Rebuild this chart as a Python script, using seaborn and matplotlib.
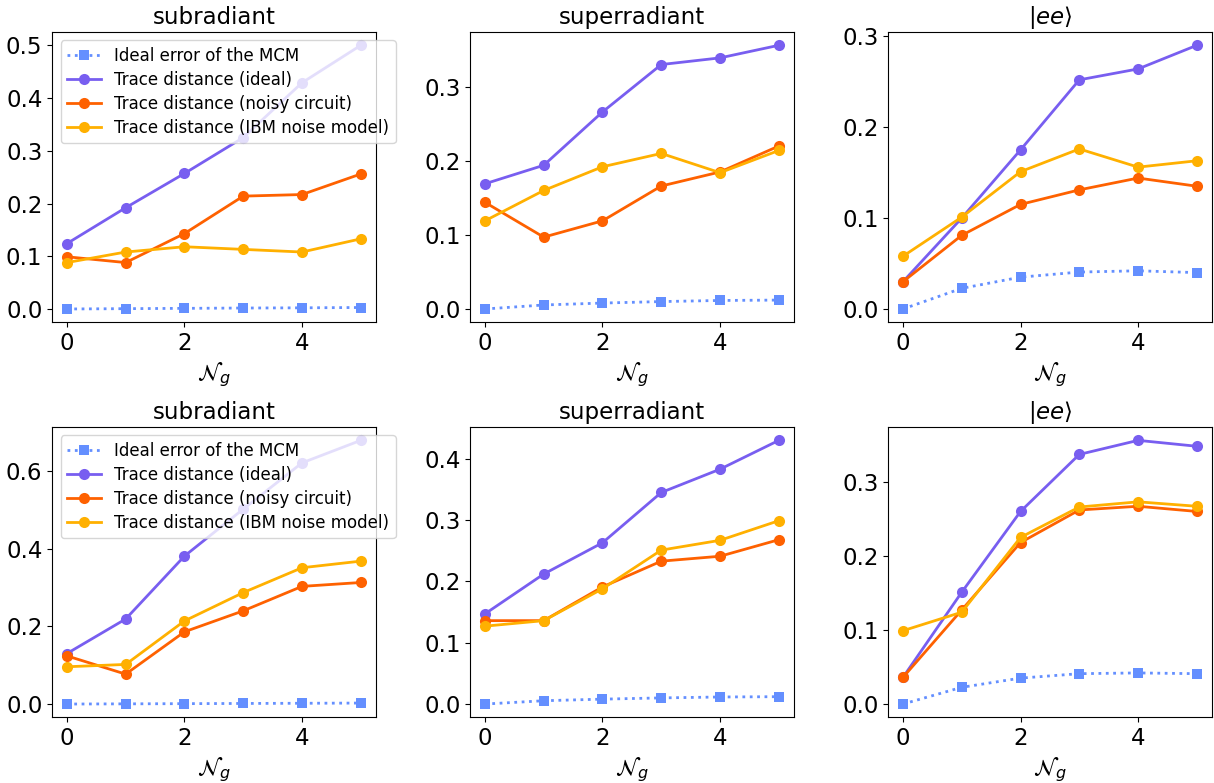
import numpy as np
import seaborn as sns
import matplotlib.pyplot as plt

ng = [0, 1, 2, 3, 4, 5]

titles = ["subradiant", "superradiant", r"$|ee\rangle$"]
labels = ["Ideal error of the MCM", "Trace distance (ideal)",
          "Trace distance (noisy circuit)", "Trace distance (IBM noise model)"]
colors = ["#648FFF", "#785EF0", "#FE6100", "#FFB000"]

# top row
sub1_mcm = [0.0, 0.0006, 0.0012, 0.0018, 0.0022, 0.0028]
sub1_ideal = [0.124, 0.192, 0.257, 0.325, 0.429, 0.500]
sub1_noisy = [0.099, 0.088, 0.143, 0.214, 0.217, 0.256]
sub1_ibm = [0.088, 0.108, 0.118, 0.113, 0.108, 0.133]

sup1_mcm = [0.0, 0.0054, 0.008, 0.010, 0.0115, 0.012]
sup1_ideal = [0.169, 0.194, 0.266, 0.330, 0.339, 0.356]
sup1_noisy = [0.144, 0.097, 0.119, 0.166, 0.185, 0.220]
sup1_ibm = [0.119, 0.160, 0.192, 0.210, 0.184, 0.214]

ee1_mcm = [0.0, 0.0227, 0.035, 0.0406, 0.042, 0.040]
ee1_ideal = [0.030, 0.100, 0.175, 0.252, 0.264, 0.290]
ee1_noisy = [0.030, 0.081, 0.115, 0.131, 0.144, 0.135]
ee1_ibm = [0.058, 0.101, 0.151, 0.176, 0.156, 0.163]

# bottom row
sub2_mcm = [0.0, 0.0005, 0.001, 0.0015, 0.002, 0.0025]
sub2_ideal = [0.130, 0.219, 0.381, 0.502, 0.621, 0.679]
sub2_noisy = [0.124, 0.077, 0.186, 0.240, 0.303, 0.313]
sub2_ibm = [0.096, 0.102, 0.214, 0.287, 0.351, 0.368]

sup2_mcm = [0.0, 0.0054, 0.008, 0.010, 0.0115, 0.012]
sup2_ideal = [0.147, 0.212, 0.263, 0.345, 0.383, 0.430]
sup2_noisy = [0.136, 0.136, 0.191, 0.233, 0.241, 0.268]
sup2_ibm = [0.127, 0.136, 0.188, 0.251, 0.267, 0.299]

ee2_mcm = [0.0, 0.0226, 0.035, 0.041, 0.042, 0.041]
ee2_ideal = [0.036, 0.151, 0.260, 0.337, 0.356, 0.348]
ee2_noisy = [0.036, 0.127, 0.218, 0.262, 0.267, 0.260]
ee2_ibm = [0.099, 0.124, 0.225, 0.266, 0.273, 0.267]

panels = [
    [sub1_mcm, sub1_ideal, sub1_noisy, sub1_ibm],
    [sup1_mcm, sup1_ideal, sup1_noisy, sup1_ibm],
    [ee1_mcm, ee1_ideal, ee1_noisy, ee1_ibm],
    [sub2_mcm, sub2_ideal, sub2_noisy, sub2_ibm],
    [sup2_mcm, sup2_ideal, sup2_noisy, sup2_ibm],
    [ee2_mcm, ee2_ideal, ee2_noisy, ee2_ibm],
]

fig, axes = plt.subplots(2, 3, figsize=(12.14, 7.83), dpi=100)
fig.subplots_adjust(left=0.043, right=0.998, top=0.959, bottom=0.084,
                    wspace=0.293, hspace=0.362)

for i, ax in enumerate(axes.flat):
    series = panels[i]
    for j, ys in enumerate(series):
        if j == 0:
            sns.lineplot(x=ng, y=ys, ax=ax, color=colors[j], marker="s",
                         linestyle=":", linewidth=2, markersize=7.5,
                         markeredgewidth=0, label=labels[j])
        else:
            sns.lineplot(x=ng, y=ys, ax=ax, color=colors[j], marker="o",
                         linewidth=2, markersize=8, markeredgewidth=0,
                         label=labels[j])
    ax.set_title(titles[i % 3], fontsize=16.5)
    ax.set_xlabel(r"$\mathcal{N}_g$", fontsize=16.5)
    ax.set_ylabel("")
    ax.tick_params(labelsize=16.5)
    ax.set_xticks([0, 2, 4])
    if i % 3 == 0:
        ax.legend(loc="upper left", fontsize=12, labelspacing=0.35)
    else:
        ax.get_legend().remove()

plt.savefig("out.png", dpi=100)
